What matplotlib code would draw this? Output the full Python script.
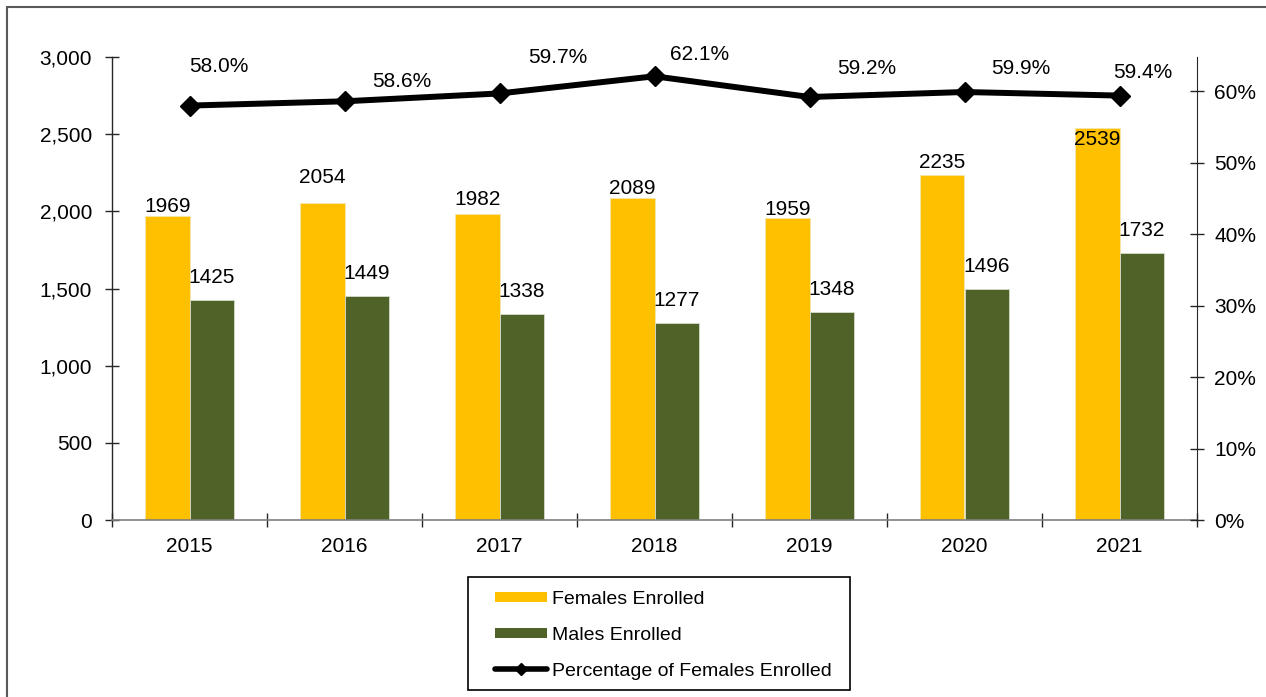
import matplotlib
matplotlib.use('Agg')
import matplotlib.pyplot as plt
from matplotlib.lines import Line2D
from matplotlib.patches import Rectangle
from matplotlib.ticker import FuncFormatter, MultipleLocator
import numpy as np

plt.rcParams['font.family'] = ['Liberation Sans', 'DejaVu Sans']

# ---- data ----
years = ['2015', '2016', '2017', '2018', '2019', '2020', '2021']
females = [1969, 2054, 1982, 2089, 1959, 2235, 2539]
males = [1425, 1449, 1338, 1277, 1348, 1496, 1732]
pct_female = [0.580, 0.586, 0.597, 0.621, 0.592, 0.599, 0.594]

# label placement (pixels; styling only)
female_label_up = [12, 27, 16.5, 11, 10, 15, -9.5]
male_label_up = 24.5
pct_label_off = [(29.5, 41), (57.5, 22), (58.5, 38), (45.5, 23.5),
                 (57, 30.7), (56.5, 25.7), (23, 24.8)]

W, H = 1266, 697
fig = plt.figure(figsize=(W / 100, H / 100), dpi=100)

# outer chart border (top and left visible, cropped on right/bottom)
fig.patches.append(Rectangle((7 / W, -0.05), 1.2, (1 - 7 / H) + 0.05,
                             transform=fig.transFigure, fill=False,
                             edgecolor='#595959', lw=1.5, clip_on=False))

ax = fig.add_axes([112 / W, 1 - 520 / H, 1085 / W, 463 / H])
x = np.arange(len(years))
w = 0.284
yellow = '#FFC000'
green = '#4F6228'

ax.bar(x - w / 2, females, w, color=yellow, edgecolor='#f5e6b0', linewidth=0.6, zorder=2)
ax.bar(x + w / 2, males, w, color=green, edgecolor='#d8dccb', linewidth=0.6, zorder=2)

ax.set_xlim(-0.5, len(years) - 0.5)
ax.set_ylim(0, 3000)
ax.yaxis.set_major_locator(MultipleLocator(500))
ax.yaxis.set_major_formatter(FuncFormatter(lambda v, p: f'{v:,.0f}'))
ax.tick_params(axis='y', direction='inout', length=9.4, width=1, pad=9.7,
               labelsize=15, colors='#262626', labelcolor='black')
ax.set_xticks(x)
ax.set_xticklabels(years)
ax.tick_params(axis='x', which='major', length=0, pad=12.6, labelsize=15)
ax.set_xticks(np.arange(-0.5, len(years), 1), minor=True)
ax.tick_params(axis='x', which='minor', direction='inout', length=9.4, width=1,
               color='#262626')
for s in ['top', 'right']:
    ax.spines[s].set_visible(False)
ax.spines['left'].set_color('#262626')
ax.spines['bottom'].set_color('#7f7f7f')
ax.spines['left'].set_linewidth(1)
ax.spines['bottom'].set_linewidth(1.2)

for xi, v, up in zip(x, females, female_label_up):
    ax.annotate(f'{v}', (xi - w / 2, v), xytext=(0, up - 7.5),
                textcoords='offset pixels', ha='center', va='baseline',
                fontsize=15, zorder=5)
for xi, v in zip(x, males):
    ax.annotate(f'{v}', (xi + w / 2, v), xytext=(0, male_label_up - 7.5),
                textcoords='offset pixels', ha='center', va='baseline',
                fontsize=15, zorder=5)

ax2 = ax.twinx()
ax2.plot(x, pct_female, color='black', lw=4.3, marker='D', ms=9.7,
         solid_joinstyle='round', zorder=3)
ax2.set_ylim(0, 0.648)
ax2.set_yticks(np.arange(0, 0.61, 0.1))
ax2.yaxis.set_major_formatter(FuncFormatter(lambda v, p: f'{v * 100:.0f}%'))
ax2.tick_params(axis='y', direction='inout', length=9.4, width=1, pad=7.6,
                labelsize=15, colors='#262626', labelcolor='black')
for s in ['top', 'left', 'bottom']:
    ax2.spines[s].set_visible(False)
ax2.spines['right'].set_color('#262626')

for xi, p, (dx, dy) in zip(x, pct_female, pct_label_off):
    ax2.annotate(f'{p * 100:.1f}%', (xi, p), xytext=(dx, dy - 7.5),
                 textcoords='offset pixels', ha='center', va='baseline',
                 fontsize=15)

# legend box
fig.patches.append(Rectangle((468 / W, 1 - 690 / H), 382 / W, 113 / H,
                             transform=fig.transFigure, fill=False,
                             edgecolor='black', lw=1.2))
handles = [
    Line2D([], [], color=yellow, lw=7.2, solid_capstyle='butt'),
    Line2D([], [], color=green, lw=7.2, solid_capstyle='butt'),
    Line2D([], [], color='black', lw=4, marker='D', ms=6, solid_capstyle='round'),
]
labels = ['Females Enrolled', 'Males Enrolled', 'Percentage of Females Enrolled']
fig.legend(handles, labels, loc='upper left',
           bbox_to_anchor=(495 / W, 1 - 590 / H), bbox_transform=fig.transFigure,
           frameon=False, fontsize=14, borderpad=0, borderaxespad=0,
           handlelength=2.67, handletextpad=0.26, labelspacing=0.96)

fig.savefig('out.png', dpi=100)
